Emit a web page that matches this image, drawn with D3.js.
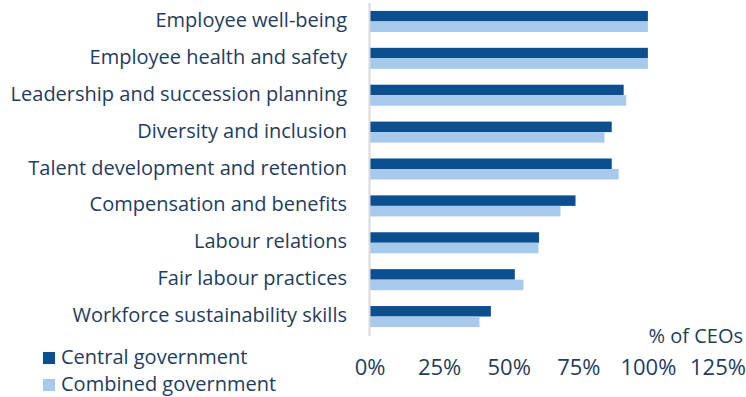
<!DOCTYPE html>
<html>
<head>
<meta charset="utf-8">
<script src="https://cdn.jsdelivr.net/npm/d3@7"></script>
<style>
  html, body { margin: 0; padding: 0; background: #fff; }
  svg text { font-family: "Open Sans", "Noto Sans", sans-serif; fill: #1f3d5e; }
</style>
</head>
<body>
<svg id="chart" width="746" height="397"></svg>
<script>
// Workforce topics ranked by share of CEOs
const categories = [
  "Employee well-being",
  "Employee health and safety",
  "Leadership and succession planning",
  "Diversity and inclusion",
  "Talent development and retention",
  "Compensation and benefits",
  "Labour relations",
  "Fair labour practices",
  "Workforce sustainability skills"
];
const centralGov  = [100, 100, 91.3, 87.0, 87.0, 74.0, 60.9, 52.2, 43.6];
const combinedGov = [100, 100, 92.2, 84.4, 89.5, 68.6, 60.7, 55.3, 39.5];
const seriesNames = ["Central government", "Combined government"];
const tickValues = [0, 25, 50, 75, 100, 125];

const colors = ["#0b4f8f", "#a7c9eb"];
const fontSize = 20;
const tickFontSize = 22;

const svg = d3.select("#chart");

const x = d3.scaleLinear().domain([0, 125]).range([369.5, 717.5]);
const y = d3.scaleBand().domain(categories).range([3, 335])
  .paddingInner(0.43).paddingOuter(0.215);
const ySub = d3.scaleBand().domain([0, 1]).range([0, y.bandwidth()]);

// bars
const series = [centralGov, combinedGov];
series.forEach((vals, si) => {
  svg.append("g").selectAll("rect")
    .data(categories)
    .join("rect")
    .attr("x", x(0) + 0.5)
    .attr("y", d => y(d) + ySub(si))
    .attr("width", (d, i) => x(vals[i]) - x(0) - 0.5)
    .attr("height", ySub.bandwidth())
    .attr("fill", colors[si]);
});

// vertical axis line
svg.append("line")
  .attr("x1", x(0)).attr("x2", x(0))
  .attr("y1", 3).attr("y2", 336)
  .attr("stroke", "#d9d9d9").attr("stroke-width", 2);

// category labels
svg.append("g").selectAll("text")
  .data(categories)
  .join("text")
  .attr("x", 347)
  .attr("y", d => y(d) + y.bandwidth() / 2)
  .attr("dy", "0.28em")
  .attr("text-anchor", "end")
  .attr("font-size", fontSize)
  .text(d => d);

// x axis tick labels
const xAxis = d3.axisBottom(x)
  .tickValues(tickValues)
  .tickSize(0)
  .tickPadding(0)
  .tickFormat(d => d + "%");
const gx = svg.append("g").attr("transform", "translate(0,359)").call(xAxis);
gx.select(".domain").remove();
gx.selectAll("text")
  .attr("font-size", tickFontSize)
  .attr("font-family", null)
  .attr("fill", null);

// axis title
svg.append("text")
  .attr("x", 743).attr("y", 343)
  .attr("text-anchor", "end")
  .attr("font-size", fontSize)
  .text("% of CEOs");

// legend
const legend = svg.append("g").selectAll("g")
  .data(seriesNames)
  .join("g")
  .attr("transform", (d, i) => `translate(43,${352 + i * 27})`);
legend.append("rect")
  .attr("width", 12).attr("height", 12)
  .attr("fill", (d, i) => colors[i]);
legend.append("text")
  .attr("x", 18).attr("y", 12)
  .attr("font-size", fontSize)
  .text(d => d);
</script>
</body>
</html>
